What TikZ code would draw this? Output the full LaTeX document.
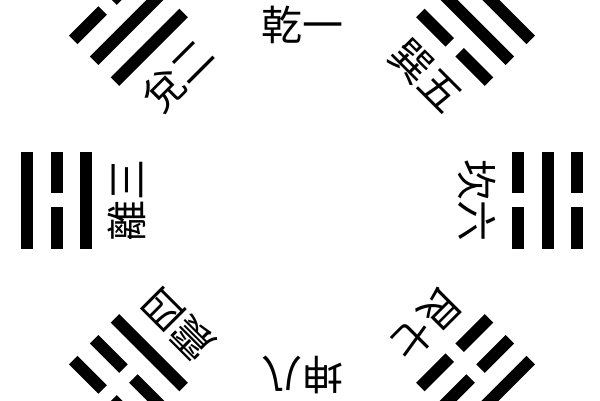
\documentclass[tikz,border=0pt]{standalone}
\usepackage{fontspec}
\usetikzlibrary{calc}
\newfontfamily\cjk{Noto Sans CJK TC}
\begin{document}
\begin{tikzpicture}[x=1pt,y=1pt,
  yaoline/.style={fill=black},
  guaname/.style={font=\cjk\fontsize{41}{41}\selectfont, inner sep=0pt, text=black}]
\useasboundingbox (0,0) rectangle (600,400);
\clip (0,0) rectangle (600,400);
\fill[white] (0,0) rectangle (600,400);
\coordinate (O) at (302,200);
% trigrams: angle / inner / middle / outer line (1 = solid, 0 = broken)
\foreach \a/\p/\q/\r in {135/1/1/0, 45/0/1/1, 180/1/0/1, 0/0/1/0, 225/1/0/0, 315/0/0/1}{
  \begin{scope}[shift={(O)}, rotate=\a-90]
    \foreach \b [count=\i] in {\p,\q,\r}{
      \pgfmathsetmacro{\rad}{216+(\i-1)*29.5}
      \ifnum\b=1
        \fill[yaoline] (-48.5,\rad-6) rectangle (48.5,\rad+6);
      \else
        \fill[yaoline] (-48.5,\rad-6) rectangle (-7,\rad+6);
        \fill[yaoline] (7,\rad-6) rectangle (48.5,\rad+6);
      \fi
    }
  \end{scope}
}
% labels
\foreach \a/\t [count=\k] in {90/乾一, 135/兌二, 180/離三, 225/震四, 45/巽五, 0/坎六, 315/艮七, 270/坤八}{
  \node[guaname, rotate=\a-90] (g\k) at ($(O)+(\a:175)$) {\t};
}
\end{tikzpicture}
\end{document}
